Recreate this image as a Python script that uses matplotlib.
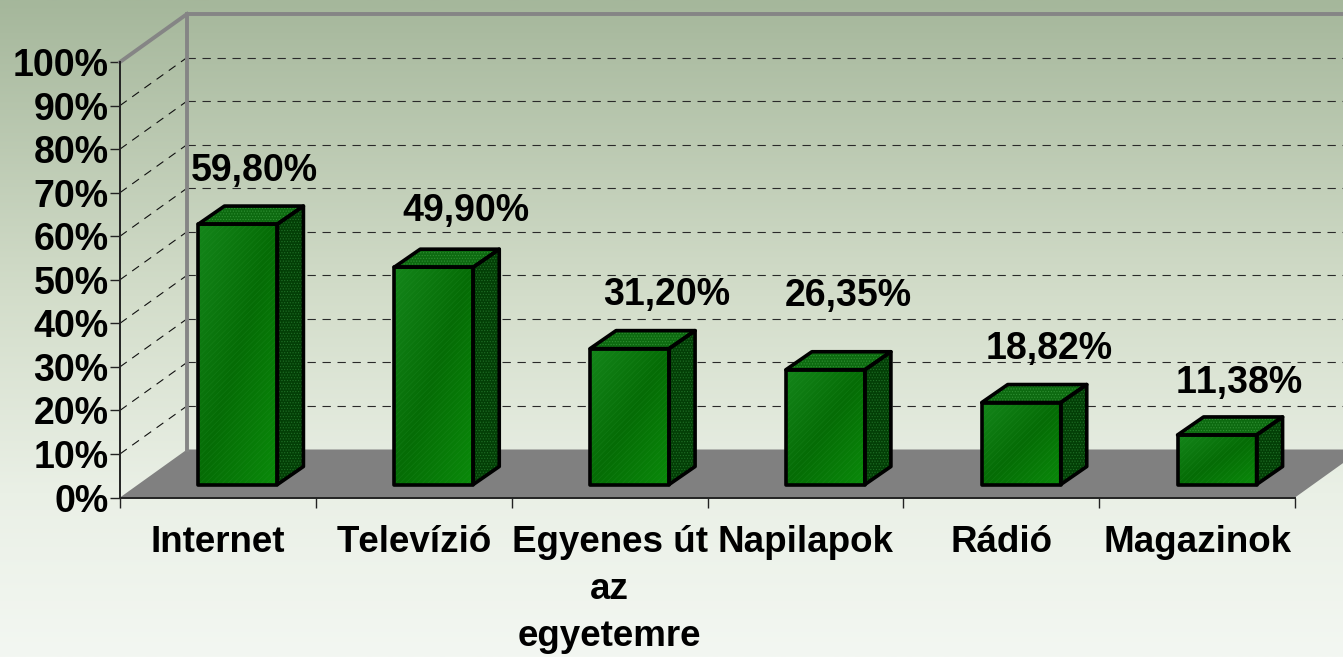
import numpy as np
import matplotlib
matplotlib.use("Agg")
import matplotlib.pyplot as plt
from matplotlib.colors import LinearSegmentedColormap
from matplotlib.patches import Polygon

categories = ["Internet", "Televízió", "Egyenes út\naz\negyetemre", "Napilapok", "Rádió", "Magazinok"]
values = [59.80, 49.90, 31.20, 26.35, 18.82, 11.38]
value_labels = ["59,80%", "49,90%", "31,20%", "26,35%", "18,82%", "11,38%"]
y_ticks = list(range(0, 101, 10))
y_tick_labels = [f"{v}%" for v in y_ticks]

plt.rcParams["font.family"] = ["Liberation Sans", "DejaVu Sans"]
plt.rcParams["font.weight"] = "bold"
plt.rcParams["hatch.linewidth"] = 0.5
plt.rcParams["text.kerning_factor"] = 6
FS = 27
W, H = 1343, 657
fig = plt.figure(figsize=(W / 100, H / 100), dpi=100)

bg = fig.add_axes([0, 0, 1, 1], zorder=0)
bg.axis("off")
bg_cmap = LinearSegmentedColormap.from_list("bg", [(0, "#a5b79b"), (0.45, "#d3ddca"), (0.75, "#eaf0e6"), (1, "#f3f7f2")])
bg.imshow(np.linspace(0, 1, 256)[:, None], cmap=bg_cmap, aspect="auto", extent=[0, 1, 0, 1])

left, right, y0, y100 = 120, 1295, 497.5, 62
ax = fig.add_axes([left / W, 1 - y0 / H, (right - left) / W, (y0 - y100) / H], zorder=1)
ax.patch.set_alpha(0)
n = len(categories)
px = n / (right - left)          # data x units per pixel
py = 100 / (y0 - y100)           # data y units per pixel
ddx, ddy = 67 * px, 48 * py      # full floor depth

# floor
ax.add_patch(Polygon([(0, 0), (n, 0), (n + ddx, ddy), (ddx, ddy)], fc="#808080", ec="none", clip_on=False, zorder=1))
# grid
dash = (0, (7.5, 6))
for v in y_ticks[1:-1]:
    ax.plot([ddx, n + ddx], [v + ddy, v + ddy], color="#2a2a2a", lw=0.8, ls=dash, clip_on=False, zorder=2)
    ax.plot([0, ddx], [v, v + ddy], color="#111111", lw=0.8, ls=dash, clip_on=False, zorder=2)
# back wall frame
ax.plot([ddx, ddx, n + ddx], [ddy, 100 + ddy, 100 + ddy], color="#858585", lw=2.8, clip_on=False, zorder=3, solid_joinstyle="miter")
ax.plot([0, ddx], [100, 100 + ddy], color="#858585", lw=2.8, clip_on=False, zorder=3)

# bars
front_cmap = LinearSegmentedColormap.from_list("f", ["#14851a", "#056c05", "#0a8a0a"])
yy, xx = np.mgrid[0:1:64j, 0:1:64j]
grad = (xx + yy) / 2
bw = 79 * px
bdx, bdy = 26 * px, 18 * py
base = 13 * py
shift = 20 * px
label_off = [(3.5, 35), (19.5, 38), (24, 36), (9.5, 55.5), (14.5, 36), (9, 34)]
for i, v in enumerate(values):
    x0 = i + 0.5 + shift - bw / 2
    x1 = x0 + bw
    b, t = base, base + v
    front = Polygon([(x0, b), (x1, b), (x1, t), (x0, t)], fc="none", ec="none", zorder=4)
    ax.add_patch(front)
    im = ax.imshow(grad, cmap=front_cmap, extent=[x0, x1, b, t], aspect="auto", zorder=4, origin="upper")
    im.set_clip_path(front)
    ax.add_patch(Polygon([(x0, b), (x1, b), (x1, t), (x0, t)], fc="none", ec="#2f9a35", hatch="//////", alpha=0.25, lw=0, zorder=5))
    ax.add_patch(Polygon([(x0, t), (x1, t), (x1 + bdx, t + bdy), (x0 + bdx, t + bdy)], fc="#0d6a10", ec="#2f8f33", hatch="......", lw=0, zorder=4, clip_on=False))
    ax.add_patch(Polygon([(x1, b), (x1 + bdx, b + bdy), (x1 + bdx, t + bdy), (x1, t)], fc="#033f06", ec="#1f6f26", hatch="......", lw=0, zorder=4, clip_on=False))
    for pts in ([(x0, b), (x1, b), (x1, t), (x0, t)],
                [(x0, t), (x1, t), (x1 + bdx, t + bdy), (x0 + bdx, t + bdy)],
                [(x1, b), (x1 + bdx, b + bdy), (x1 + bdx, t + bdy), (x1, t)]):
        ax.add_patch(Polygon(pts, fc="none", ec="black", lw=2.6, joinstyle="round", zorder=6, clip_on=False))
    ox, oy = label_off[i]
    ax.annotate(value_labels[i], xy=(x0 + bw / 2 + bdx / 2, t + bdy), xytext=(ox * 0.72, oy * 0.72),
                textcoords="offset points", ha="center", va="center", fontsize=FS, fontweight="bold", color="black", zorder=7)

ax.set_xlim(0, n)
ax.set_ylim(0, 100)
for s in ("top", "right"):
    ax.spines[s].set_visible(False)
for s in ("left", "bottom"):
    ax.spines[s].set_linewidth(1.4)
    ax.spines[s].set_color("#222222")
    ax.spines[s].set_zorder(3)
ax.set_yticks(y_ticks, y_tick_labels, fontsize=FS, fontweight="bold")
ax.tick_params(axis="y", length=7.2, width=1, pad=1, color="#222222")
ax.set_xticks(range(n + 1), [""] * (n + 1))
ax.tick_params(axis="x", which="major", length=7.2, width=1, color="#222222")
ax.set_xticks(np.arange(n) + 0.5, categories, minor=True, fontsize=26.5, fontweight="bold", linespacing=1.44)
ax.tick_params(axis="x", which="minor", length=0, pad=20)

fig.savefig("out.png", dpi=100)
